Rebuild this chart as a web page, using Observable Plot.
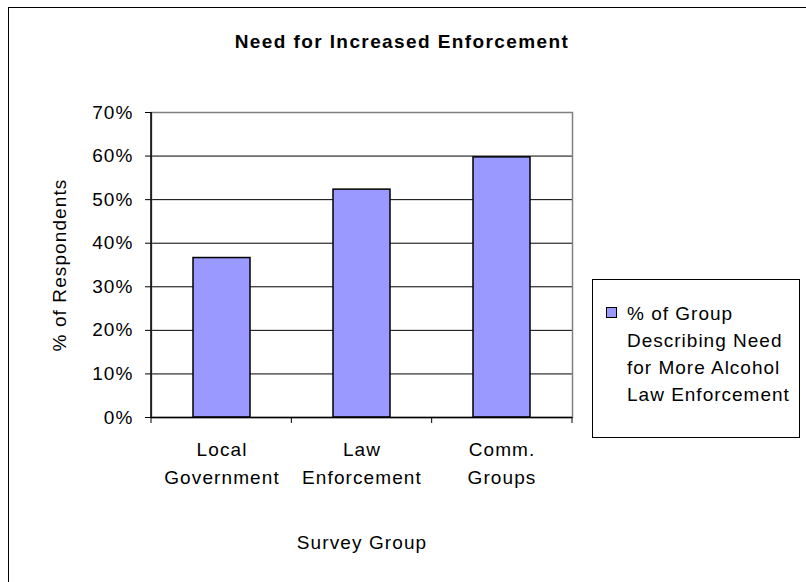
<!DOCTYPE html>
<html>
<head>
<meta charset="utf-8">
<script src="https://cdn.jsdelivr.net/npm/d3@7"></script>
<script src="https://cdn.jsdelivr.net/npm/@observablehq/plot@0.6"></script>
<style>
  html, body { margin: 0; padding: 0; background: #fff; overflow: hidden; }
  #wrap { position: relative; width: 806px; height: 582px; overflow: hidden; font-family: "Liberation Sans", Arial, sans-serif; }
  #outer { position: absolute; left: 8px; top: 7px; width: 900px; height: 700px; border: 1.5px solid #000; box-sizing: border-box; }
  #title { position: absolute; left: 0; width: 804px; top: 30px; text-align: center; font-weight: bold; font-size: 19px; letter-spacing: 1.4px; line-height: 24px; }
  #legend { position: absolute; left: 592px; top: 279px; width: 208px; height: 159px; border: 1px solid #000; box-sizing: border-box; background: #fff; }
  #legend .sw { position: absolute; left: 13px; top: 27px; width: 11px; height: 11px; border: 1px solid #000; box-sizing: border-box; }
  #legend .txt { position: absolute; left: 34px; top: 20px; font-size: 19px; line-height: 27px; letter-spacing: 1px; color: #000; }
  #chart { position: absolute; left: 0; top: 0; }
  #chart svg text { letter-spacing: 1.1px; }
</style>
</head>
<body>
<div id="wrap">
  <div id="outer"></div>
  <div id="chart"></div>
  <div id="title"></div>
  <div id="legend"><div class="sw"></div><div class="txt"></div></div>
</div>
<script>
const title = "Need for Increased Enforcement";
const categories = ["Local\nGovernment", "Law\nEnforcement", "Comm.\nGroups"];
const values = [0.366, 0.523, 0.597];
const seriesName = "% of Group\nDescribing Need\nfor More Alcohol\nLaw Enforcement";
const yTicks = [0, 0.1, 0.2, 0.3, 0.4, 0.5, 0.6, 0.7];
const yLabel = "% of Respondents";
const xLabel = "Survey Group";
const barColor = "#9999ff";

const data = categories.map((c, i) => ({cat: c, value: values[i]}));

document.getElementById("title").textContent = title;
document.querySelector("#legend .sw").style.background = barColor;
document.querySelector("#legend .txt").innerHTML = seriesName.split("\n").join("<br>");

const plot = Plot.plot({
  width: 806,
  height: 582,
  marginLeft: 151,
  marginRight: 234,
  marginTop: 112,
  marginBottom: 165,
  style: {fontFamily: "Liberation Sans, Arial, sans-serif", fontSize: "19px", color: "#000", background: "transparent", overflow: "visible"},
  x: {domain: categories, paddingInner: 0.59, paddingOuter: 0.295},
  y: {domain: [0, 0.7]},
  marks: [
    Plot.ruleY(yTicks.filter(d => d > 0 && d < 0.7), {stroke: "#000", strokeWidth: 1}),
    Plot.frame({stroke: "#808080", strokeWidth: 1.5}),
    Plot.barY(data, {x: "cat", y: "value", fill: barColor, stroke: "#000", strokeWidth: 1.5}),
    Plot.ruleY([0], {stroke: "#000", strokeWidth: 1.5}),
    Plot.axisY({ticks: yTicks, tickFormat: d => Math.round(d * 100) + "%", tickSize: 6, tickPadding: 12, label: yLabel, labelArrow: "none", labelAnchor: "center", labelOffset: 99, stroke: "#000"}),
    Plot.axisX({tickSize: 0, tickPadding: 18, lineHeight: 1.5, label: xLabel, labelAnchor: "center", labelOffset: 131})
  ]
});
document.getElementById("chart").appendChild(plot);

// left axis line and category-boundary ticks derived from the band scale
const sx = plot.scale("x");
const sy = plot.scale("y");
const svg = d3.select(plot);
const [r0, r1] = sx.range;
const y0 = sy.apply(0), yTop = sy.apply(0.7);
svg.append("line").attr("x1", r0).attr("x2", r0).attr("y1", yTop).attr("y2", y0)
  .attr("stroke", "#000").attr("stroke-width", 1.5);
const nb = categories.length;
const stepW = (r1 - r0) / nb;
for (let i = 0; i <= nb; i++) {
  const xb = r0 + i * stepW;
  svg.append("line").attr("x1", xb).attr("x2", xb).attr("y1", y0).attr("y2", y0 + 6)
    .attr("stroke", "#000").attr("stroke-width", 1);
}
</script>
</body>
</html>
